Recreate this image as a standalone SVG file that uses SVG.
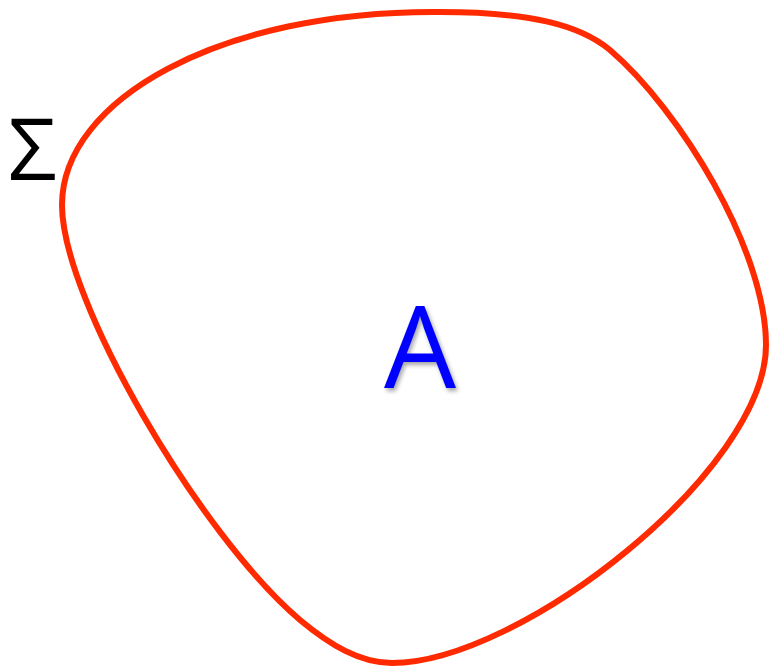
<svg xmlns="http://www.w3.org/2000/svg" width="769" height="667" viewBox="0 0 769 667">
<defs>
<style>
.boundary{fill:none;stroke:#FF2A00;stroke-width:6;stroke-linejoin:round}
.sigma{font-family:"Open Sans","Liberation Sans",sans-serif;font-size:86px;fill:#000}
.label{font-family:"Open Sans","Liberation Sans",sans-serif;font-size:114px;fill:#0000FF}
</style>
<filter id="shadow" x="-20%" y="-20%" width="150%" height="150%">
<feDropShadow dx="2" dy="3" stdDeviation="2" flood-color="#000" flood-opacity="0.35"/>
</filter>
</defs>
<rect width="769" height="667" fill="#fff"/>
<g id="region">
<path class="boundary" d="M62,205 C62,100 220,10 440,12 C530,12 580,25 610,50 C680,110 766,250 766,345 C766,470 520,663 392,663 C360,663 330,645 300,620 C200,535 62,300 62,205 Z"/>
</g>
<g id="sigma-label">
<text class="sigma" x="8" y="180">Σ</text>
</g>
<g id="A-label">
<text class="label" x="420" y="388" text-anchor="middle" filter="url(#shadow)">A</text>
</g>
</svg>
